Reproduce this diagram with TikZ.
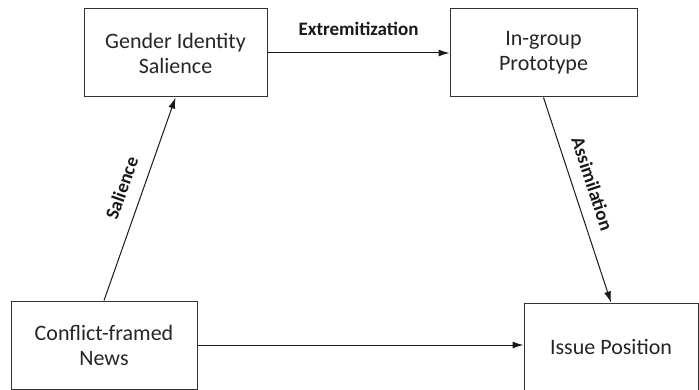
\documentclass[tikz,border=0pt]{standalone}
\usepackage{fontspec}
\setmainfont{Carlito}
\usetikzlibrary{arrows.meta}

\begin{document}
\begin{tikzpicture}[
    x=1pt, y=1pt,
    factor/.style={rectangle, draw=black!80, line width=1pt, fill=white, align=center,
        text=black!85, font=\fontsize{22}{25}\selectfont, inner sep=0pt},
    path/.style={line width=1pt, draw=black!90, -{Latex[length=11pt,width=7pt]}},
    effect/.style={font=\bfseries\fontsize{19}{20}\selectfont, text=black!90}
]
\useasboundingbox (0,0) rectangle (699,-390);

\node[factor, minimum width=183pt, minimum height=88pt] (gis) at (175.5,-53) {Gender Identity\\Salience};
\node[factor, minimum width=187pt, minimum height=88pt] (igp) at (543.5,-53) {In-group\\Prototype};
\node[factor, minimum width=186pt, minimum height=88pt] (cfn) at (104,-345) {Conflict-framed\\News};
\node[factor, minimum width=174pt, minimum height=87pt] (isp) at (611,-346.5) {Issue Position};

\draw[path] (cfn.north) -- node[effect, sloped, above=10pt, pos=0.52] {Salience} (gis.south);
\draw[path] (gis.east) -- node[effect, above=14pt] {Extremitization} (igp.west);
\draw[path] (igp.south) -- node[effect, sloped, above=9pt, pos=0.45] {Assimilation} (isp.north);
\draw[path] (cfn.east) -- (cfn.east -| isp.west);

\end{tikzpicture}
\end{document}
